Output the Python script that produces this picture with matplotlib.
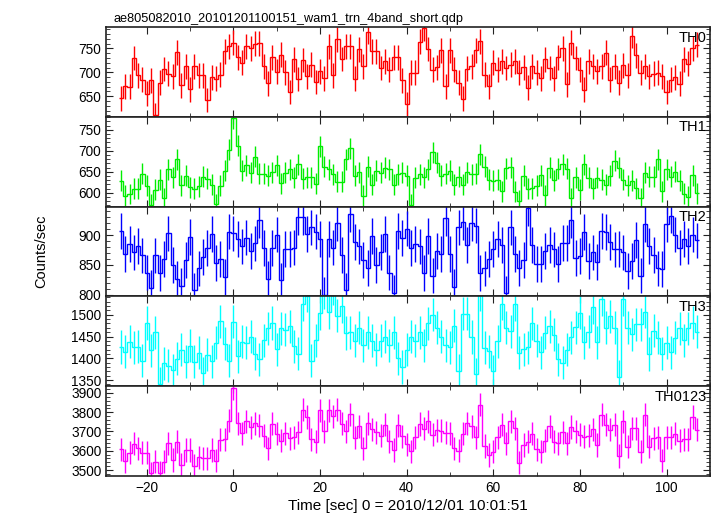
import numpy as np
import matplotlib.pyplot as plt
from matplotlib.ticker import MultipleLocator

plt.rcParams['font.family'] = ['Liberation Sans', 'DejaVu Sans']

# time bins (1 s), bin centres
t_start, t_stop = -26, 107
times = np.arange(t_start, t_stop + 1)

th0 = [646, 671, 670, 730, 694, 685, 655, 683, 610, 678, 707, 697, 692, 742, 673, 713, 665, 713, 694, 694,
       642, 690, 687, 695, 744, 755,
       762, 732, 720, 755, 750, 760, 761, 713, 677, 732, 701, 737, 700, 659, 727, 686, 726, 692, 716, 680,
       702, 688, 755, 694, 769, 728, 755, 755, 687, 748, 713, 785, 744, 744, 709, 723, 706, 732, 732, 683,
       633, 699, 699, 764, 792, 749, 706, 711, 746, 671, 746, 706, 678, 645, 708, 713, 746, 765, 695, 671,
       720, 706, 723, 709, 716, 723, 699, 711, 668, 713, 699, 688, 727, 709, 688, 732, 750, 675, 762, 730,
       706, 664, 723, 713, 702, 713, 741, 685, 713, 678, 715, 694, 776, 736, 699, 713, 692, 697, 699, 692,
       659, 685, 690, 676, 727, 718, 750, 758]

th1 = [629, 593, 597, 610, 610, 645, 617, 571, 607, 631, 587, 656, 637, 680, 618, 641, 613, 609, 615, 638,
       633, 619, 573, 617, 653, 702,
       777, 712, 652, 665, 648, 686, 645, 645, 640, 649, 665, 623, 648, 656, 636, 668, 633, 637, 637, 621,
       711, 662, 656, 644, 626, 626, 680, 706, 641, 649, 593, 662, 619, 652, 648, 660, 656,
       619, 644, 648, 640, 571, 636, 644, 637, 656, 696, 672, 640, 645, 652, 619, 638, 619, 649, 644, 645,
       692, 662, 631, 629, 631, 603, 658, 661, 602, 581, 640, 610, 611, 617, 642, 594, 660, 630, 657, 668,
       657, 587, 637, 607, 668, 636, 611, 636, 631, 619, 640, 676, 660, 631, 618, 629, 611, 587, 648, 638,
       638, 680, 603, 656, 638, 650, 629, 598, 591, 642, 599]

th2 = [907, 868, 885, 871, 882, 866, 837, 811, 866, 836, 860, 903, 850, 827, 815, 858, 897, 807, 844, 863,
       878, 902, 853, 860, 830, 906,
       903, 894, 881, 896, 873, 886, 926, 878, 827, 878, 901, 824, 877, 877, 879, 930, 930, 902, 913, 906,
       893, 800, 893, 879, 920, 867, 807, 936, 889, 881, 858, 845, 899, 850,
       872, 902, 837, 803, 907, 895, 911, 878, 885, 881, 836, 899, 832, 873, 868, 928, 868, 813, 913, 922,
       884, 920, 916, 836, 844, 860, 877, 894, 884, 802, 913, 868, 845, 858, 945, 884, 852, 852, 873, 884,
       876, 852, 887, 887, 926, 862, 865, 905, 857, 871, 855, 907, 905, 888, 876, 877, 871, 840, 857, 892,
       832, 919, 882, 867, 844, 843, 919, 933, 901, 879, 894, 882, 901, 891]

th3 = [1426, 1415, 1438, 1425, 1427, 1394, 1481, 1418, 1460, 1341, 1389, 1383, 1373, 1399, 1420, 1392,
       1429, 1392, 1413, 1366, 1408, 1393, 1436, 1485, 1433, 1394,
       1484, 1405, 1438, 1436, 1450, 1411, 1398, 1441, 1469, 1481, 1421, 1469, 1466, 1473, 1428, 1411,
       1524, 1544, 1394, 1441, 1504, 1550, 1506, 1561, 1498, 1519, 1458,
       1460, 1440, 1470, 1430, 1460, 1440, 1420, 1440, 1450, 1430, 1460, 1400, 1380, 1420, 1450, 1440,
       1460, 1430, 1480, 1500, 1470, 1450, 1430,
       1425, 1475, 1371, 1502, 1502, 1449, 1363, 1546, 1424, 1416, 1370, 1439, 1525, 1470, 1462, 1524,
       1413, 1421, 1425, 1480, 1440, 1414, 1459, 1473, 1454, 1398, 1390, 1420, 1448, 1471, 1505, 1437,
       1461, 1517, 1437, 1536, 1470, 1496, 1470, 1358, 1535, 1470, 1455, 1478, 1478, 1507, 1410, 1463,
       1447, 1411, 1436, 1414, 1447, 1469, 1441, 1469, 1482, 1461]

th0123 = [3608, 3547, 3590, 3636, 3613, 3590, 3590, 3483, 3543, 3486, 3543, 3639, 3552, 3648, 3526, 3604,
          3604, 3521, 3566, 3561, 3561, 3604, 3549, 3657, 3660, 3757,
          3926, 3743, 3691, 3752, 3721, 3743, 3730, 3677, 3613, 3740, 3688, 3653, 3691, 3665, 3670, 3695,
          3813, 3775, 3660, 3648, 3810, 3700, 3810, 3778, 3813, 3740, 3700,
          3790, 3667, 3728, 3614, 3742, 3712, 3696, 3679, 3735, 3649, 3604, 3733, 3676, 3634, 3598, 3670,
          3739, 3715, 3754, 3684, 3706, 3704, 3694,
          3691, 3613, 3600, 3688, 3743, 3726, 3670, 3839, 3625, 3578, 3596, 3670, 3735, 3639, 3752, 3717,
          3538, 3630, 3648, 3688, 3608, 3596, 3653, 3726, 3648, 3639, 3695, 3639, 3723, 3700, 3683, 3674,
          3677, 3712, 3630, 3787, 3735, 3709, 3735, 3573, 3752, 3622, 3717, 3717, 3596, 3787, 3622, 3665,
          3670, 3549, 3670, 3670, 3688, 3653, 3660, 3660, 3775, 3709]

bands = ["TH0", "TH1", "TH2", "TH3", "TH0123"]
series = [th0, th1, th2, th3, th0123]
errors = [26, 25, 30, 38, 60]          # typical 1-sigma half length per band
colors = ["#ff0000", "#00ee00", "#0000ff", "#00ffff", "#ff00ff"]
ylims = [(607, 795), (567, 781), (797, 948), (1336, 1542), (3469, 3935)]
ymajor = [50, 50, 50, 50, 100]
yminor = [10, 10, 10, 10, 20]

fig, axes = plt.subplots(5, 1, sharex=True, figsize=(7.17, 5.16), dpi=100)
fig.subplots_adjust(left=0.148, right=0.990, bottom=0.0775, top=0.9477, hspace=0)

edges = np.append(times - 0.5, times[-1] + 0.5)
for ax, name, y, err, c, yl, ma, mi in zip(axes, bands, series, errors, colors, ylims, ymajor, yminor):
    ax.stairs(y, edges, color=c, lw=1.0, baseline=None)
    ax.errorbar(times, y, yerr=err, fmt='none', ecolor=c, elinewidth=1.0, capsize=0)
    ax.set_ylim(*yl)
    ax.yaxis.set_major_locator(MultipleLocator(ma))
    ax.yaxis.set_minor_locator(MultipleLocator(mi))
    ax.xaxis.set_major_locator(MultipleLocator(20))
    ax.xaxis.set_minor_locator(MultipleLocator(10))
    ax.tick_params(which='both', direction='in', top=True, right=True, labelsize=9.8, color='#222222')
    ax.tick_params(which='major', length=5)
    ax.tick_params(which='minor', length=3)
    for s in ax.spines.values():
        s.set_color('#222222')
        s.set_linewidth(1.2)
    ax.text(0.995, 0.96, name, transform=ax.transAxes, ha='right', va='top', fontsize=10.5)

axes[-1].set_xlim(-29.4, 110)
axes[-1].set_xlabel("Time [sec] 0 = 2010/12/01 10:01:51", fontsize=11, labelpad=3)
fig.text(0.058, 0.513, "Counts/sec", rotation=90, ha='center', va='center', fontsize=10.5)
fig.text(0.158, 0.957, "ae805082010_20101201100151_wam1_trn_4band_short.qdp", ha='left',
         va='baseline', fontsize=9.2)

fig.savefig("out.png", dpi=100)
